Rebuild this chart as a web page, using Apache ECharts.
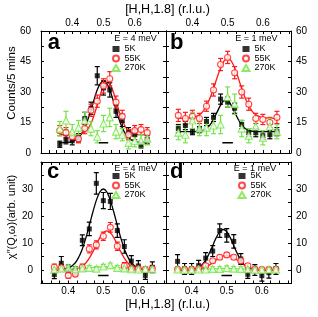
<!DOCTYPE html>
<html><head><meta charset="utf-8">
<script src="https://cdn.jsdelivr.net/npm/echarts@6/dist/echarts.min.js"></script>
<style>html,body{margin:0;padding:0;background:#fff}#c{width:318px;height:317px}</style>
</head><body><div id="c"></div>
<script>
// ---------- data ----------
const H = [0.36,0.38,0.40,0.42,0.44,0.46,0.48,0.50,0.52,0.54,0.56,0.58,0.60,0.62,0.64];
const curveH = [0.36,0.40,0.42,0.43,0.44,0.45,0.46,0.47,0.48,0.49,0.50,0.51,0.52,0.53,0.54,0.55,0.56,0.57,0.58,0.60,0.64];

// panel a : E = 4 meV, counts
const a5K = [4.3,6.5,6,7.5,17,22,38,32,31,20.5,16,10,9,4,6.5];
const a5Kerr = [1.5,2,2,2,3,3,4.5,3.5,3.5,3,3,2.5,2.5,1.5,2];
const a55K = [11,10,8,7,12,21,25.5,33,36.5,25,18,9,11,11.5,10];
const a55Kerr = [2.5,2.5,2,2,2.5,3,3,3.5,3.5,3,3,2.5,2.5,2.5,2.5];
const a270K = [12,16,10.5,12.5,16,12,8,14.5,17.5,10.5,9,5,6,6,7];
const a270Kerr = [3.5,4.5,3.5,3.5,4,3.5,3,4,4.5,3.5,3,3,3,3,3];
const aFit5K = [5.0,5.6,7.5,9.5,12.4,16.4,21.3,26.4,31.1,34.3,35.5,34.3,31.1,26.4,21.3,16.4,12.4,9.5,7.5,5.6,5.0];
const aFit55K = [9,9,9.2,9.6,10.4,11.9,14.6,18.6,23.6,28.8,33.0,35.0,34.1,30.7,25.7,20.5,16.1,12.9,10.9,9.3,9];

// panel b : E = 1 meV, counts
const b5K = [12,13.5,10.5,11.5,15.5,17.5,26.5,25,22,14,10,10,8.5,9,10.5];
const b5Kerr = [2,2,1.5,1.5,2,2,2.5,2.5,2.5,2,2,2,2,2,2];
const b55K = [18.5,17,18,17,23,31,43.5,47,39.5,30,24,17,16.5,15,17.5];
const b55Kerr = [3,3,3,2.5,2.5,3,3,3,3,3,3,2.5,2.5,2.5,3];
const b270K = [10,9,16,12,12.5,13.5,14,27.5,24,12,8.5,13,7.5,13,10.5];
const b270Kerr = [3.5,4,4,3.5,4,4,4.5,5,5,4,3.5,4,3.5,4,3.5];
const bFit5K = [10.5,10.5,10.7,11.1,12.0,13.8,16.6,20.1,23.5,25.7,25.7,23.5,20.1,16.6,13.8,12.0,11.1,10.7,10.5,10.5,10.5];
const bFit55K = [17,17.4,18.8,20.5,23.2,27.0,31.75,37.0,41.8,45.3,46.5,45.3,41.8,37.0,31.75,27.0,23.2,20.5,18.8,17.4,17];

// panel c : E = 4 meV, chi''
const c5K = [-1.7,2.5,0.3,-0.3,11,15.2,32.1,25.7,25.4,14.6,8.7,3.3,1.5,-2,1];
const c5Kerr = [1.5,2.5,1.5,1.5,2,2.5,4,3,3,2.5,2.5,2,2,1.5,2];
const c55K = [1,0.8,-2,-1.5,1,7.8,9.3,12.5,15.8,8.8,1.5,0.5,0.5,0.2,0.5];
const c55Kerr = [1.2,1.2,1,1,1.2,1.5,1.5,1.5,1.8,1.5,1.2,1,1,1,1];
const c270K = [0.2,0.5,0.8,0.3,0.6,0.8,0.5,1.3,1.8,0.8,0.6,0.3,0.2,0.4,0.3];
const c270Kerr = [0.8,0.8,0.8,0.8,0.8,0.8,0.8,0.8,0.8,0.8,0.8,0.8,0.8,0.8,0.8];
const cFit5K = [0,0.7,2.7,4.8,7.8,11.8,16.5,21.4,25.8,28.9,30,28.9,25.8,21.4,16.5,11.8,7.8,4.8,2.7,0.7,0];
const cFit55K = [0,0,0.3,0.7,1.4,2.6,4.4,6.7,9.4,12.0,13.8,14.5,13.8,12.0,9.4,6.7,4.4,2.6,1.4,0.3,0];
const cFit270K = [0.2,0.3,0.4,0.5,0.6,0.7,0.8,0.9,1.0,1.1,1.2,1.2,1.1,1.0,0.9,0.8,0.7,0.6,0.5,0.4,0.3];

// panel d : E = 1 meV, chi''
const d5K = [3.2,0.4,0.4,1.6,4.4,7,14.6,12.8,10.6,4.1,-1.6,0,-2.1,-1,0.4];
const d5Kerr = [2.5,2,2,2,2,2,2.5,2.5,2.5,2,1.5,2,2,2,2];
const d55K = [0.3,0.2,0.2,0.5,1.6,3.4,4.7,5.6,4.7,3.4,1.6,0.3,0.2,0.1,0.3];
const d55Kerr = [0.8,0.8,0.8,0.8,0.8,0.8,0.8,0.8,0.8,0.8,0.8,0.8,0.8,0.8,0.8];
const d270K = [0.2,0,0.1,0.2,0.2,0.4,0.4,0.7,0.5,0.4,0.3,0.1,0.1,0.2,0.2];
const d270Kerr = [0.8,0.8,0.8,0.8,0.8,0.8,0.8,0.8,0.8,0.8,0.8,0.8,0.8,0.8,0.8];
const dFit5K = [0,0.15,0.9,2.0,3.7,6.1,9.0,12.0,14.2,15,14.2,12.0,9.0,6.1,3.7,2.0,0.9,0.4,0.15,0,0];
const dFit55K = [0,0,0.34,0.65,1.1,1.8,2.7,3.7,4.5,5.2,5.4,5.2,4.5,3.7,2.7,1.8,1.1,0.65,0.34,0.07,0];
const dFit270K = [0.1,0.15,0.2,0.25,0.3,0.35,0.4,0.45,0.5,0.55,0.6,0.55,0.5,0.45,0.4,0.35,0.3,0.25,0.2,0.15,0.1];

// resolution bars
const resH = [0.485,0.515];
const resTop = 5;
const resBottom = -2;

// ticks and labels
const xLabelVals = [0.4,0.5,0.6];
const xTickVals = [0.3,0.325,0.35,0.375,0.4,0.425,0.45,0.475,0.5,0.525,0.55,0.575,0.6,0.625,0.65,0.675,0.7];
const yTopLabels = [0,15,30,45,60];
const yTopTicks = [0,7.5,15,22.5,30,37.5,45,52.5,60];
const yBotLabels = [0,10,20,30];
const yBotTicks = [-5,0,5,10,15,20,25,30,35,40];
const seriesNames = ['5K','55K','270K'];
const energyLabels = ['E = 4 meV','E = 1 meV','E = 4 meV','E = 1 meV'];
const panelLetters = ['a','b','c','d'];
const xTitle = '[H,H,1.8] (r.l.u.)';
const yTitleTop = 'Counts/5 mins';
const yTitleBot = 'χ″(Q,ω)(arb. unit)';

// ---------- chart ----------
const FONT = 'Liberation Sans, Arial, Helvetica, sans-serif';
const BLACK = '#000', RED = '#ff1a1a', GREEN = '#72e444';

const panels = [
  {grid:{left:41, top:31, width:125, height:122}, xMin:0.3, xMax:0.7, yMin:0, yMax:60, yL:yTopLabels, yT:yTopTicks,
   xLab:'top', yLab:'left', pts:[a5K,a55K,a270K], errs:[a5Kerr,a55Kerr,a270Kerr], fits:[aFit5K,aFit55K,null], res:resTop},
  {grid:{left:166, top:31, width:125, height:122}, xMin:0.325, xMax:0.68, yMin:0, yMax:60, yL:yTopLabels, yT:yTopTicks,
   xLab:'top', yLab:'right', pts:[b5K,b55K,b270K], errs:[b5Kerr,b55Kerr,b270Kerr], fits:[bFit5K,bFit55K,null], res:resTop},
  {grid:{left:41, top:162, width:125, height:121.5}, xMin:0.322, xMax:0.679, yMin:-5, yMax:40, yL:yBotLabels, yT:yBotTicks,
   xLab:'bottom', yLab:'left', pts:[c5K,c55K,c270K], errs:[c5Kerr,c55Kerr,c270Kerr], fits:[cFit5K,cFit55K,cFit270K], res:resBottom},
  {grid:{left:166, top:162, width:125, height:121.5}, xMin:0.327, xMax:0.683, yMin:-5, yMax:40, yL:yBotLabels, yT:yBotTicks,
   xLab:'bottom', yLab:'right', pts:[d5K,d55K,d270K], errs:[d5Kerr,d55Kerr,d270Kerr], fits:[dFit5K,dFit55K,dFit270K], res:resBottom}
];
const colors = [BLACK, RED, GREEN];
const symbols = ['rect','circle','triangle'];
const symSizes = [5,6,7];

const grids = [], xAxes = [], yAxes = [], series = [], legends = [], graphics = [];

panels.forEach((p, gi) => {
  grids.push(Object.assign({containLabel:false}, p.grid));
  ['bottom','top'].forEach(pos => {
    xAxes.push({
      type:'value', gridIndex:gi, position:pos, min:p.xMin, max:p.xMax,
      axisLine:{show:true, onZero:false, lineStyle:{color:BLACK, width:1}},
      axisTick:{show:true, inside:true, length:3, customValues:xTickVals.filter(v=>v>=p.xMin-1e-9 && v<=p.xMax+1e-9), lineStyle:{color:BLACK, width:1}},
      splitLine:{show:false},
      axisLabel:{show: pos===p.xLab, customValues:xLabelVals, formatter:v=>v.toFixed(1), fontSize:10, color:BLACK, fontFamily:FONT, margin:3}
    });
  });
  ['left','right'].forEach(pos => {
    yAxes.push({
      type:'value', gridIndex:gi, position:pos, min:p.yMin, max:p.yMax,
      axisLine:{show:true, onZero:false, lineStyle:{color:BLACK, width:1}},
      axisTick:{show:true, inside:true, length:3, customValues:p.yT, lineStyle:{color:BLACK, width:1}},
      splitLine:{show:false},
      axisLabel:{show: pos===p.yLab, customValues:p.yL, fontSize:10, color:BLACK, fontFamily:FONT, margin: pos==='left' ? (gi===0?10:8) : 5}
    });
  });
  const xi = 2*gi, yi = 2*gi;
  // fitted curves
  p.fits.forEach((f, k) => {
    if (!f) return;
    series.push({type:'line', xAxisIndex:xi, yAxisIndex:yi, data:curveH.map((x,i)=>[x,f[i]]),
      showSymbol:false, smooth:0.3, lineStyle:{color:colors[k], width:1.3}, z:1, silent:true});
  });
  // error bars
  p.pts.forEach((vals, k) => {
    const errs = p.errs[k], col = colors[k];
    series.push({type:'custom', xAxisIndex:xi, yAxisIndex:yi, z:2, silent:true, clip:true,
      data:H.map((x,i)=>[x, vals[i], errs[i]]), encode:{x:0, y:[1]},
      renderItem:(params, api) => {
        const x = api.value(0), y = api.value(1), e = api.value(2);
        const t = api.coord([x, y+e]), b = api.coord([x, y-e]);
        const w = 2.5, st = {stroke:col, lineWidth:1.2};
        return {type:'group', children:[
          {type:'line', shape:{x1:t[0], y1:t[1], x2:b[0], y2:b[1]}, style:st},
          {type:'line', shape:{x1:t[0]-w, y1:t[1], x2:t[0]+w, y2:t[1]}, style:st},
          {type:'line', shape:{x1:b[0]-w, y1:b[1], x2:b[0]+w, y2:b[1]}, style:st}
        ]};
      }});
  });
  // markers
  p.pts.forEach((vals, k) => {
    series.push({type:'scatter', name:seriesNames[k], xAxisIndex:xi, yAxisIndex:yi, z:3+k,
      data:H.map((x,i)=>[x, vals[i]]), symbol:symbols[k], symbolSize:symSizes[k],
      itemStyle: k===0 ? {color:BLACK} : {color:'#fff', borderColor:colors[k], borderWidth:1.1}});
  });
  // resolution bar
  series.push({type:'line', xAxisIndex:xi, yAxisIndex:yi, data:resH.map(x=>[x, p.res]),
    showSymbol:false, lineStyle:{color:BLACK, width:1.5}, z:2, silent:true});

  // legends
  const lx = [111.5, 241.5, 111.5, 237.5][gi];
  const ly = [44.5, 44.5, 171.5, 171.5][gi];
  legends.push({left:lx, top:ly, orient:'vertical', padding:0, itemGap:0.5, itemWidth:7, itemHeight:6,
    selectedMode:false, data:seriesNames,
    textStyle:{fontSize:9, color:BLACK, fontFamily:FONT, lineHeight:7.5}});
  // energy label and panel letter
  const ex = [135.5, 256.3, 135.5, 255][gi], ey = [38.5, 38.5, 169, 169][gi];
  graphics.push({type:'text', x:ex, y:ey, style:{text:energyLabels[gi], fontSize:9, fontFamily:FONT, fill:BLACK, align:'center', verticalAlign:'middle'}});
  const px = [53.8, 176.7, 53, 176.7][gi], py = [42.5, 42.5, 171.5, 171.5][gi];
  graphics.push({type:'text', x:px, y:py, style:{text:panelLetters[gi], fontSize:22, fontWeight:'bold', fontFamily:FONT, fill:BLACK, align:'center', verticalAlign:'middle'}});
});

graphics.push({type:'text', x:167.5, y:10, style:{text:xTitle, fontSize:12.5, fontFamily:FONT, fill:BLACK, align:'center', verticalAlign:'middle'}});
graphics.push({type:'text', x:167.5, y:304.3, style:{text:xTitle, fontSize:12.5, fontFamily:FONT, fill:BLACK, align:'center', verticalAlign:'middle'}});
graphics.push({type:'text', x:12, y:83, rotation:Math.PI/2, style:{text:yTitleTop, fontSize:11.5, fontFamily:FONT, fill:BLACK, align:'center', verticalAlign:'middle'}});
graphics.push({type:'text', x:12, y:217, rotation:Math.PI/2, style:{text:yTitleBot, fontSize:11, fontFamily:FONT, fill:BLACK, align:'center', verticalAlign:'middle'}});

const chart = echarts.init(document.getElementById('c'), null, {renderer:'canvas'});
chart.setOption({
  animation:false, backgroundColor:'#fff',
  grid:grids, xAxis:xAxes, yAxis:yAxes, series:series, legend:legends, graphic:graphics
});
</script></body></html>
